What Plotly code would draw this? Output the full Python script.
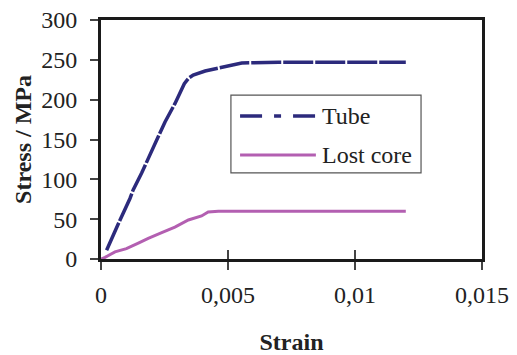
import plotly.graph_objects as go

# Data
tube_strain = [0.00022, 0.00042, 0.00075, 0.00114, 0.00127, 0.0016, 0.00186, 0.00219, 0.00252,
               0.00291, 0.00311, 0.00328, 0.00345, 0.00363, 0.0041, 0.00475, 0.00515, 0.00554, 0.007, 0.009, 0.012]
tube_stress = [11, 26, 49, 76, 87, 108, 126, 151, 172,
               195, 209, 220, 227, 231, 236, 241, 243, 246, 247, 247, 247]

core_strain = [0.0, 0.00016, 0.00055, 0.001, 0.00147, 0.00186, 0.00239, 0.00291, 0.00344,
               0.00396, 0.00422, 0.00462, 0.007, 0.009, 0.012]
core_stress = [0, 2, 9, 13, 20, 26, 33, 40, 49,
               54, 59, 60, 60, 60, 60]

series_names = ["Tube", "Lost core"]
x_ticks = [0, 0.005, 0.01, 0.015]
x_tick_text = ["0", "0,005", "0,01", "0,015"]
y_ticks = [0, 50, 100, 150, 200, 250, 300]

TUBE_C = "#2c2a7c"
CORE_C = "#b35fb1"
FONT = "Liberation Serif"

fig = go.Figure()
fig.add_trace(go.Scatter(x=tube_strain, y=tube_stress, mode="lines", name=series_names[0],
                         line=dict(color=TUBE_C, width=3.5, dash="30px,2px"), showlegend=False))
fig.add_trace(go.Scatter(x=core_strain, y=core_stress, mode="lines", name=series_names[1],
                         line=dict(color=CORE_C, width=3), showlegend=False))
# invisible trace to carry the inside-tick overlay axis
fig.add_trace(go.Scatter(x=[0], y=[0], xaxis="x2", mode="markers", marker=dict(opacity=0),
                         showlegend=False, hoverinfo="skip"))

# page body has an 8px margin, so the figure is sized/placed to compensate
fig.update_layout(
    width=509, height=347,
    margin=dict(l=93, r=35, t=12, b=96),
    paper_bgcolor="white", plot_bgcolor="white",
    font=dict(family=FONT, size=24, color="#222"),
    xaxis=dict(range=[0, 0.015], tickvals=x_ticks, ticktext=x_tick_text, automargin=False,
               ticklabeloverflow="allow",
               showgrid=False, zeroline=False, showline=True, linecolor="#1a1a1a", linewidth=3,
               mirror=True, ticks="outside", ticklen=8, tickwidth=1.5, tickcolor="#444",
               ticklabelstandoff=4,
               title=dict(text="<b>Strain</b>", standoff=29, font=dict(family=FONT, size=24))),
    xaxis2=dict(range=[0, 0.015], tickvals=x_ticks, overlaying="x", side="bottom", anchor="y",
                showticklabels=False, showgrid=False, zeroline=False, showline=False,
                ticks="inside", ticklen=9, tickwidth=1.5, tickcolor="#444", automargin=False),
    yaxis=dict(range=[0, 300], tickvals=y_ticks, showgrid=False, zeroline=False, automargin=False,
               ticklabeloverflow="allow",
               showline=True, linecolor="#1a1a1a", linewidth=3, mirror=True,
               ticks="outside", ticklen=8, tickwidth=1.5, tickcolor="#444",
               ticklabelstandoff=8,
               title=dict(text="<b>Stress / MPa</b>", standoff=3, font=dict(family=FONT, size=24))),
)

# Legend drawn manually (to match long line samples)
fig.add_shape(type="rect", xref="paper", yref="paper", x0=0.341, x1=0.840, y0=0.360, y1=0.686,
              line=dict(color="#555", width=1.2), fillcolor="white", layer="above")
fig.add_shape(type="line", xref="paper", yref="paper", x0=0.365, x1=0.564, y0=0.598, y1=0.598,
              line=dict(color=TUBE_C, width=3.5, dash="22px,12px,7px,12px"), layer="above")
fig.add_shape(type="line", xref="paper", yref="paper", x0=0.365, x1=0.564, y0=0.435, y1=0.435,
              line=dict(color=CORE_C, width=3), layer="above")
fig.add_annotation(xref="paper", yref="paper", x=0.575, y=0.598, text=series_names[0],
                   showarrow=False, xanchor="left", yanchor="middle", font=dict(size=24))
fig.add_annotation(xref="paper", yref="paper", x=0.575, y=0.435, text=series_names[1],
                   showarrow=False, xanchor="left", yanchor="middle", font=dict(size=24))

fig.write_html("out.html")
